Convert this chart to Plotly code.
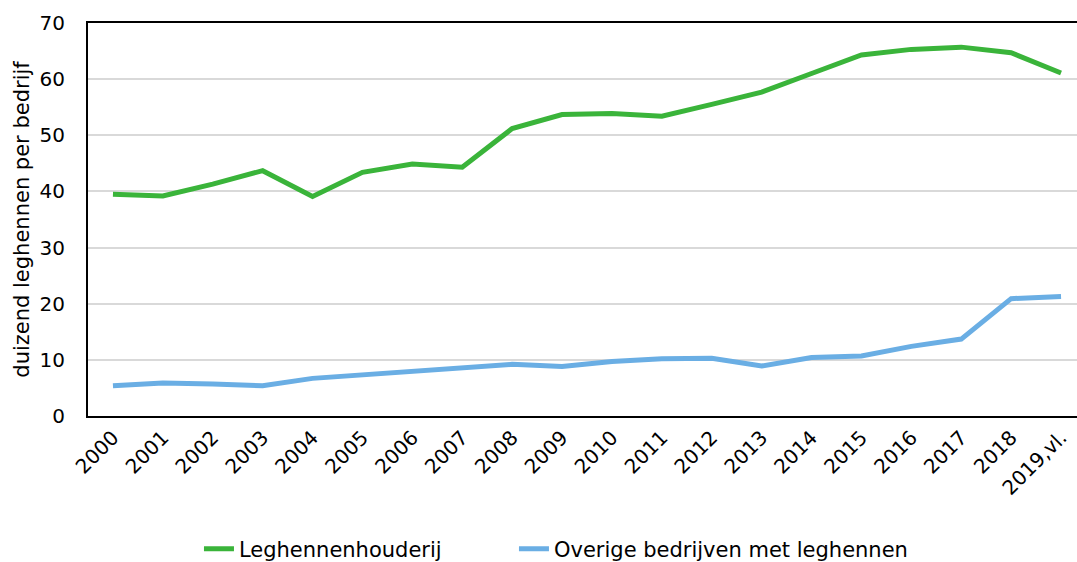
import plotly.graph_objects as go

years = ["2000", "2001", "2002", "2003", "2004", "2005", "2006", "2007", "2008", "2009",
         "2010", "2011", "2012", "2013", "2014", "2015", "2016", "2017", "2018", "2019,vl."]
leghennenhouderij = [39.5, 39.2, 41.3, 43.7, 39.1, 43.4, 44.9, 44.3, 51.2, 53.7,
                     53.9, 53.4, 55.5, 57.7, 61.0, 64.3, 65.3, 65.7, 64.7, 61.1]
overige = [5.4, 5.9, 5.7, 5.4, 6.7, 7.3, 8.1, 8.6, 9.2, 8.8,
           9.7, 10.2, 10.3, 8.9, 10.4, 10.7, 12.4, 13.7, 20.9, 21.3]
y_ticks = [0, 10, 20, 30, 40, 50, 60, 70]

font_family = "DejaVu Sans"

fig = go.Figure()
fig.add_trace(go.Scatter(x=years, y=leghennenhouderij, mode="lines", name="Leghennenhouderij",
                         line=dict(color="#3AB43A", width=5), legend="legend"))
fig.add_trace(go.Scatter(x=years, y=overige, mode="lines", name="Overige bedrijven met leghennen",
                         line=dict(color="#6AAEE4", width=5), legend="legend2"))

legend_common = dict(orientation="h", yref="container", yanchor="middle", y=0.0231,
                     xanchor="left", font=dict(size=21), bgcolor="rgba(0,0,0,0)")

fig.update_layout(
    width=1077, height=562,
    margin=dict(l=88, r=0, t=23, b=146),
    paper_bgcolor="white", plot_bgcolor="white",
    font=dict(family=font_family, size=20, color="black"),
    showlegend=True,
    legend=dict(x=0.1122, **legend_common),
    legend2=dict(x=0.4307, **legend_common),
)
fig.update_xaxes(
    type="category", range=[-0.5, 19.32], tickangle=-45, automargin=False,
    showline=True, linecolor="black", linewidth=2, mirror=True,
    showgrid=False, ticks="", tickfont=dict(size=20),
)
fig.update_yaxes(
    range=[0, 70], tickvals=y_ticks, showgrid=True, gridcolor="#D9D9D9", gridwidth=2,
    showline=True, linecolor="black", linewidth=2, mirror=True, zeroline=False,
    ticks="", tickfont=dict(size=20), automargin=False, ticklabelstandoff=17,
    title=dict(text="duizend leghennen per bedrijf", font=dict(size=21), standoff=4),
)

fig.write_html("out.html", config={"displayModeBar": False},
               post_script="document.body.style.margin='0px';")
